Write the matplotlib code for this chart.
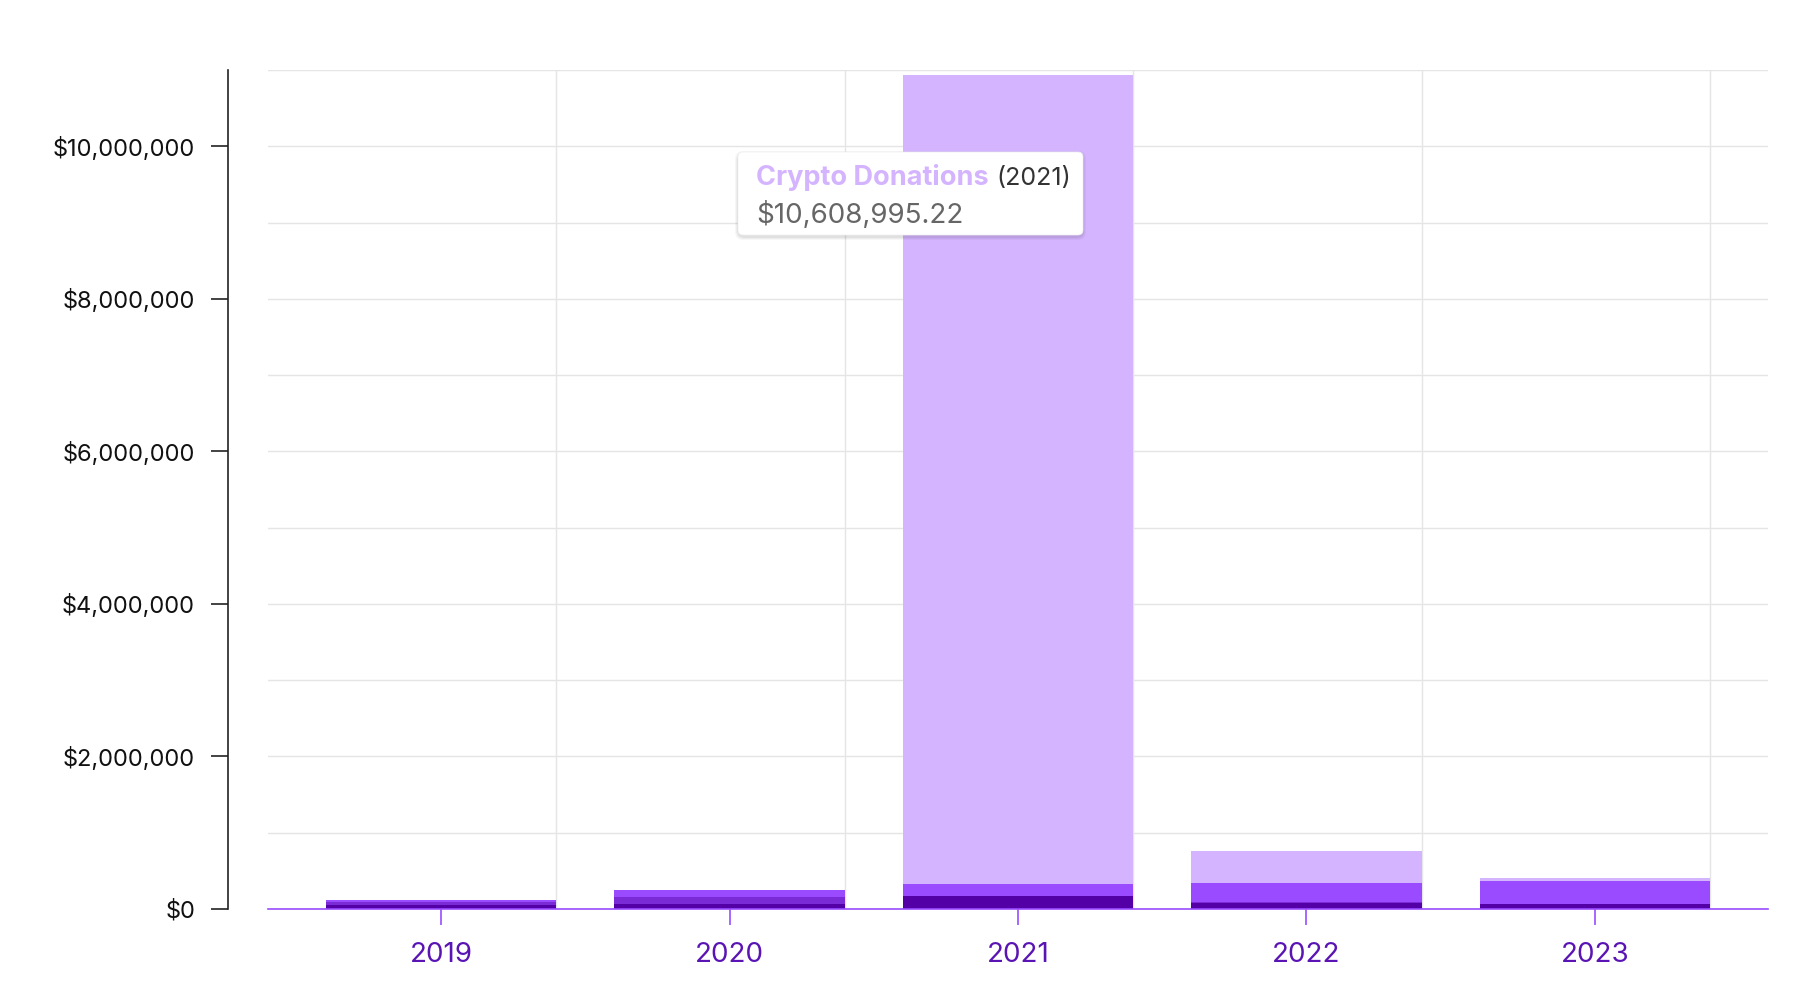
import numpy as np
import matplotlib
matplotlib.use('Agg')
import matplotlib.pyplot as plt
from matplotlib.patches import FancyBboxPatch
from matplotlib.transforms import IdentityTransform
from matplotlib.ticker import FuncFormatter

plt.rcParams['font.family'] = ['Inter', 'DejaVu Sans']

# Donation totals per year, stacked bottom to top
years = ['2019', '2020', '2021', '2022', '2023']
donations_dark = [56000, 70000, 170000, 79000, 66000]
donations_medium = [35000, 87000, 0, 13000, 0]
donations_bright = [26000, 92000, 157000, 249000, 300000]
crypto_donations = [0, 0, 10608995.22, 420000, 39000]

series = [donations_dark, donations_medium, donations_bright, crypto_donations]
colors = ['#5300A6', '#7A2BD6', '#9A4BFF', '#D4B4FE']

W, H = 1800, 986
fig = plt.figure(figsize=(W / 100, H / 100), dpi=100)
ax = fig.add_axes([268 / W, 77 / H, 1500 / W, 839 / H])

x = np.arange(len(years))
bar_w = 230 / 288

bottom = np.zeros(len(years))
for vals, col in zip(series, colors):
    ax.bar(x, vals, width=bar_w, bottom=bottom, color=col, zorder=3, linewidth=0)
    bottom += np.array(vals)

ax.set_xlim(-0.6, 4.6)
ax.set_ylim(0, 11e6)

# grid
grid_col = '#e5e5e5'
ax.set_yticks(np.arange(0, 10.1e6, 2e6))
ax.set_yticks(np.arange(1e6, 11.1e6, 1e6), minor=True)
ax.grid(which='both', axis='y', color=grid_col, linewidth=1.0, zorder=0)
ax.vlines(x + bar_w / 2, 0, 11e6, color=grid_col, linewidth=1.0, zorder=0)
ax.set_axisbelow(True)

ax.yaxis.set_major_formatter(FuncFormatter(lambda v, p: '${:,.0f}'.format(v)))
ax.set_xticks(x)
ax.set_xticklabels(years)

for s in ['top', 'right']:
    ax.spines[s].set_visible(False)
ax.spines['left'].set_position(('outward', 40 * 0.72))
ax.spines['left'].set_color('#222222')
ax.spines['left'].set_linewidth(1.2)
ax.spines['bottom'].set_color('#9B4DFF')
ax.spines['bottom'].set_linewidth(1.2)
ax.spines['bottom'].set_zorder(4)

ax.tick_params(axis='y', which='major', length=12.2, width=1.2, color='#222222',
               pad=11.5, labelsize=17, labelcolor='#111111')
ax.tick_params(axis='y', which='minor', length=0)
ax.tick_params(axis='x', length=11.5, width=1.2, color='#9B4DFF',
               pad=12.5, labelsize=20, labelcolor='#5A14B4')

# tooltip for the 2021 crypto bar (pixel coords, origin at bottom-left)
px = IdentityTransform()
bx0, by0, bw, bh = 738, H - 235, 345, 83
for i, a in enumerate([0.03, 0.04, 0.05]):
    grow = 6 - 2 * i
    fig.patches.append(FancyBboxPatch((bx0 - grow / 2, by0 - 2 - grow / 2), bw + grow, bh + grow,
                                      boxstyle='round,pad=0,rounding_size=8',
                                      transform=px, facecolor='black', edgecolor='none',
                                      alpha=a, zorder=10))
fig.patches.append(FancyBboxPatch((bx0, by0), bw, bh, boxstyle='round,pad=0,rounding_size=5',
                                  transform=px, facecolor='white', edgecolor='#eeeeee',
                                  linewidth=0.5, zorder=11))
t1 = fig.text(756, H - 185, 'Crypto Donations', transform=px, fontsize=19.5,
              fontweight='bold', color='#D4B4FE', va='baseline', zorder=12)
fig.canvas.draw()
t1_end = t1.get_window_extent(renderer=fig.canvas.get_renderer()).x1
fig.text(t1_end + 8, H - 185, '(2021)', transform=px, fontsize=18,
         color='#333333', va='baseline', zorder=12)
fig.text(756, H - 223, '$10,608,995.22', transform=px, fontsize=20,
         color='#666666', va='baseline', zorder=12)

fig.savefig('out.png', dpi=100)
